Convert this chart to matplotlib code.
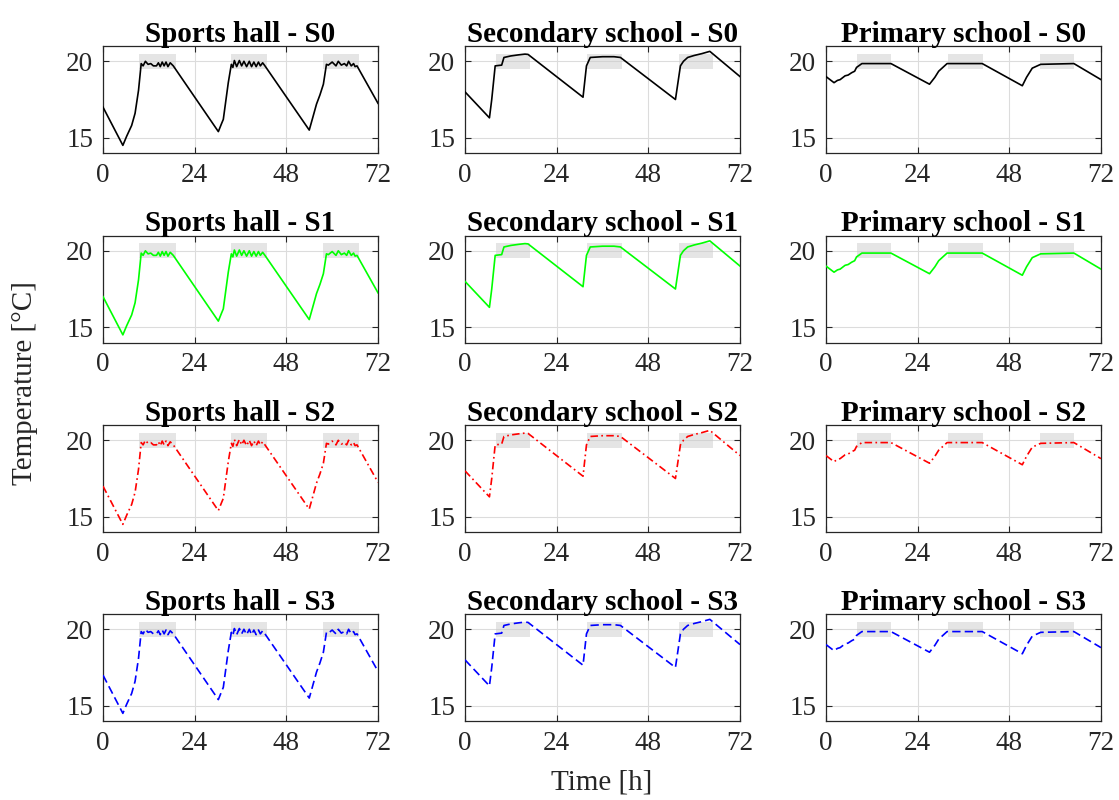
import matplotlib
matplotlib.use("Agg")
import matplotlib.pyplot as plt

plt.rcParams['font.family'] = ['Liberation Serif', 'DejaVu Serif']

# building names and scenario names
buildings = ["Sports hall", "Secondary school", "Primary school"]
scenarios = ["S0", "S1", "S2", "S3"]

# sports hall temperature profile (time in h, temperature in degC)
hall_t = [0, 5.2, 6.2, 7.5, 8.4, 9.3, 10.0, 10.5, 11.1, 11.8, 12.5, 13.2, 14.0, 14.5, 15.0, 15.5,
          16.0, 16.5, 17.0, 17.6, 18.4, 30.2, 31.0, 31.5, 32.8, 33.6, 34.0, 34.4, 35.0, 35.7, 36.3,
          36.9, 37.6, 38.3, 38.9, 39.5, 40.1, 40.7, 41.2, 41.8, 42.4, 54.0, 54.9, 55.9, 56.8, 57.7,
          58.5, 59.0, 60.0, 61.0, 61.6, 62.4, 63.2, 63.8, 64.3, 65.0, 65.6, 66.0, 66.5, 72]
hall_T = [17.0, 14.5, 15.1, 15.8, 16.6, 18.1, 19.85, 19.7, 20.0, 19.8, 19.85, 19.7, 19.7, 19.9, 19.65, 19.95,
          19.7, 19.95, 19.65, 19.9, 19.7, 15.4, 15.9, 16.2, 18.6, 19.8, 19.6, 20.05, 19.65, 20.05, 19.7,
          20.0, 19.65, 20.0, 19.65, 19.95, 19.65, 19.95, 19.7, 19.9, 19.7, 15.5, 16.3, 17.2, 17.8, 18.5,
          19.8, 19.75, 19.95, 19.7, 20.0, 19.75, 19.85, 19.7, 20.0, 19.7, 19.85, 19.65, 19.7, 17.25]

# secondary school
sec_t = [0, 6.4, 7.0, 7.9, 9.6, 10.2, 12.0, 14.0, 15.7, 16.5, 30.9, 31.8, 32.8, 36.0, 39.0, 40.7,
         55.1, 56.4, 57.2, 58.3, 60.0, 62.0, 64.1, 72]
sec_T = [18.0, 16.3, 17.5, 19.7, 19.75, 20.25, 20.35, 20.42, 20.47, 20.45, 17.65, 19.7, 20.25, 20.3, 20.3, 20.25,
         17.5, 19.7, 20.0, 20.25, 20.38, 20.5, 20.65, 19.0]

# primary school
prim_t = [0, 2.1, 3.0, 3.7, 5.0, 5.8, 6.7, 7.5, 8.0, 9.4, 17.0, 27.1, 28.5, 29.5, 31.7, 40.9,
          51.4, 52.5, 54.0, 56.2, 64.9, 72]
prim_T = [19.0, 18.6, 18.75, 18.8, 19.05, 19.1, 19.25, 19.35, 19.6, 19.85, 19.85, 18.5, 18.95, 19.35, 19.85, 19.85,
          18.4, 18.95, 19.55, 19.8, 19.85, 18.8]

# occupied hours (shaded comfort band 19.5-20.5)
hall_occ = [(9.5, 19), (33.5, 43), (57.5, 67)]
school_occ = [(8, 17), (32, 41), (56, 65)]
band = (19.5, 20.5)

xticks = [0, 24, 48, 72]
yticks = [15, 20]

profiles = [(hall_t, hall_T, hall_occ), (sec_t, sec_T, school_occ), (prim_t, prim_T, school_occ)]
# colour, dash pattern (None = solid)
styles = [('k', None), ('#00ff00', None), ('r', (4.5, 2, 1, 2)), ('b', (5, 2.5))]

W, H = 1119, 800
fig = plt.figure(figsize=(W / 100, H / 100), dpi=100)

lefts = [103, 465, 826]
tops = [46, 235.5, 425, 614]
aw, ah = 275, 107

for r, sc in enumerate(scenarios):
    for c, b in enumerate(buildings):
        ax = fig.add_axes([lefts[c] / W, 1 - (tops[r] + ah) / H, aw / W, ah / H])
        t, T, occ = profiles[c]
        for a, e in occ:
            ax.fill_between([a, e], band[0], band[1], color=(0.8, 0.8, 0.8), alpha=0.5, lw=0, zorder=2)
        col, dash = styles[r]
        ln, = ax.plot(t, T, color=col, lw=1.2, zorder=3)
        if dash is not None:
            ln.set_dashes(dash)
        ax.set_xlim(0, 72)
        ax.set_ylim(14, 21)
        ax.set_xticks(xticks)
        ax.set_xticklabels([str(v) for v in xticks], fontfamily='Liberation Serif')
        ax.set_yticks(yticks)
        ax.set_yticklabels([str(v) for v in yticks], fontfamily='Liberation Serif')
        ax.grid(True, color='#dcdcdc', lw=0.8, zorder=1)
        ax.set_axisbelow(True)
        ax.tick_params(direction='in', top=True, right=True, labelsize=19.5, length=4,
                       color='#262626', labelcolor='#262626', pad=7)
        for s in ax.spines.values():
            s.set_color('#262626')
            s.set_linewidth(0.9)
        ax.set_title(f"{b} - {sc}", fontsize=21, fontweight='bold', pad=3)

fig.text(25 / W, 1 - 383.5 / H, "Temperature [°C]", rotation=90, ha='center', va='center',
         fontsize=21, color='#262626')
fig.text(602 / W, 1 - 783 / H, "Time [h]", ha='center', va='center', fontsize=21, color='#262626')

fig.savefig("out.png", dpi=100)
